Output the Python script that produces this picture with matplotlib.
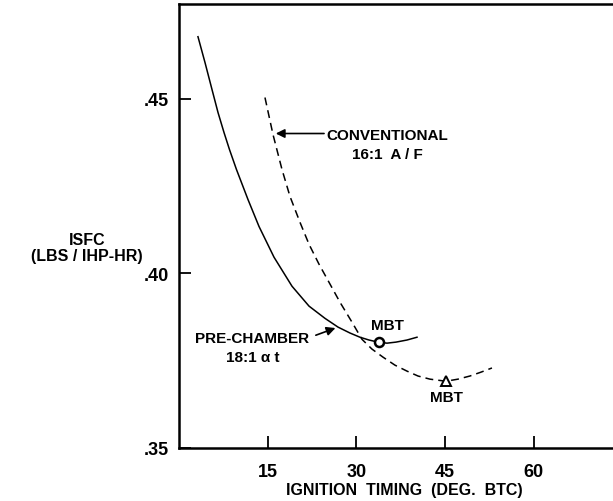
import matplotlib.pyplot as plt

plt.rcParams['font.family'] = ['Liberation Sans Narrow', 'Liberation Sans', 'DejaVu Sans']
plt.rcParams['font.weight'] = 'bold'

# Pre-chamber curve (solid)
pre_x = [3.21, 4.40, 5.58, 6.60, 7.61, 8.54, 9.72, 11.67, 13.53, 16.07, 19.11, 21.99,
         24.69, 26.89, 28.92, 30.61, 32.13, 33.66, 35.18, 36.70, 38.56, 40.25]
pre_y = [0.4677, 0.4603, 0.4526, 0.4460, 0.4403, 0.4354, 0.4297, 0.4211, 0.4134,
         0.4046, 0.3963, 0.3906, 0.3871, 0.3846, 0.3829, 0.3817, 0.3809, 0.3803,
         0.3800, 0.3803, 0.3809, 0.3817]

# Conventional curve (dashed)
conv_x = [14.54, 15.90, 17.42, 18.77, 20.46, 21.99, 23.68, 25.54, 27.23, 29.26, 30.95,
          32.64, 34.50, 36.53, 38.56, 40.42, 42.45, 45.15, 47.18, 49.21, 51.07, 52.93]
conv_y = [0.4503, 0.4397, 0.4297, 0.4220, 0.4146, 0.4083, 0.4026, 0.3969, 0.3917,
          0.3860, 0.3811, 0.3783, 0.3760, 0.3737, 0.3720, 0.3706, 0.3697, 0.3691,
          0.3697, 0.3706, 0.3717, 0.3729]

# MBT points
mbt_pre = (33.8, 0.3803)
mbt_conv = (45.15, 0.3692)

x_ticks = [15, 30, 45, 60]
y_ticks = [0.35, 0.40, 0.45]
y_tick_labels = ['.35', '.40', '.45']

fig = plt.figure(figsize=(6.13, 5.02), dpi=100)
ax = fig.add_axes([0.292, 0.1056, 0.708, 0.884])

ax.plot(pre_x, pre_y, color='black', linewidth=1.1)
ax.plot(conv_x, conv_y, color='black', linewidth=1.1, linestyle=(0, (5.2, 3.3)))
ax.plot(*mbt_pre, marker='o', markersize=6.5, markerfacecolor='white',
        markeredgecolor='black', markeredgewidth=1.8)
ax.plot(*mbt_conv, marker='^', markersize=6.5, markerfacecolor='white',
        markeredgecolor='black', markeredgewidth=1.4)

ax.set_xlim(0, 73.4)
ax.set_ylim(0.35, 0.477)

ax.set_xticks(x_ticks)
ax.set_yticks(y_ticks)
ax.set_yticklabels(y_tick_labels)
ax.tick_params(direction='in', length=8.5, width=1.3, labelsize=13)
ax.tick_params(axis='x', pad=11)
ax.tick_params(axis='y', pad=7)

ax.spines['right'].set_visible(False)
for s in ['left', 'bottom', 'top']:
    ax.spines[s].set_linewidth(1.8)

for lab in ax.get_xticklabels() + ax.get_yticklabels():
    lab.set_fontweight('bold')

ax.set_xlabel('IGNITION  TIMING  (DEG.  BTC)', fontsize=11.5, fontweight='bold')
ax.xaxis.set_label_coords(0.52, -0.077)

fig.text(0.142, 0.505, 'ISFC\n(LBS / IHP-HR)', ha='center', va='center',
         fontsize=11.5, fontweight='bold', linespacing=1.05)

# annotations
ax.annotate('', xy=(15.9, 0.4400), xytext=(25.0, 0.4400),
            arrowprops=dict(arrowstyle='-|>', color='black', lw=1.2, mutation_scale=13))
ax.text(35.3, 0.4397, 'CONVENTIONAL', ha='center', va='center', fontsize=11, fontweight='bold')
ax.text(35.3, 0.4340, '16:1  A / F', ha='center', va='center', fontsize=11, fontweight='bold')

ax.annotate('', xy=(26.9, 0.3846), xytext=(22.7, 0.3820),
            arrowprops=dict(arrowstyle='-|>', color='black', lw=1.2, mutation_scale=13))
ax.text(12.4, 0.3815, 'PRE-CHAMBER', ha='center', va='center', fontsize=11, fontweight='bold')
ax.text(12.5, 0.3760, '18:1 \u03b1 t', ha='center', va='center', fontsize=11, fontweight='bold')

ax.text(35.2, 0.3851, 'MBT', ha='center', va='center', fontsize=11, fontweight='bold')
ax.text(45.15, 0.3647, 'MBT', ha='center', va='center', fontsize=11, fontweight='bold')

fig.savefig('out.png', dpi=100)
